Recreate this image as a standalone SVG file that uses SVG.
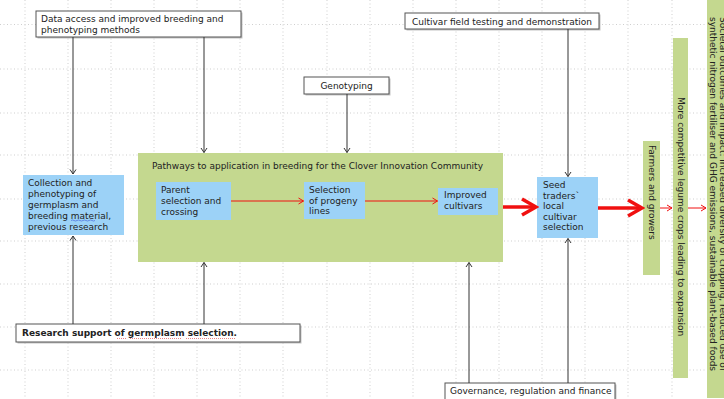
<svg xmlns="http://www.w3.org/2000/svg" width="724" height="399" viewBox="0 0 724 399">
<style>
.t{font-family:"DejaVu Sans",Verdana,sans-serif;font-size:9px;fill:#222}
.b{font-weight:bold}
.grid line{stroke:#cfcfcf;stroke-width:1;stroke-dasharray:1,2.5}
.wb{fill:#fff;stroke:#555;stroke-width:1}
.sh{fill:#c4c4c4}
.blue{fill:#9cd2f7}
.green{fill:#c4d88f}
.ck{stroke:#333;stroke-width:1;fill:none}
.cr{stroke:#f01010;stroke-width:1;fill:none}
.crt{stroke:#f01010;stroke-width:3.5;fill:none}
</style>
<defs>
<marker id="ak" viewBox="0 0 8 8" refX="7.5" refY="4" markerWidth="8" markerHeight="8" markerUnits="userSpaceOnUse" orient="auto"><path d="M3,1 L7.5,4 L3,7" fill="none" stroke="#333" stroke-width="1"/></marker>
<marker id="ar" viewBox="0 0 8 8" refX="7.5" refY="4" markerWidth="8" markerHeight="8" markerUnits="userSpaceOnUse" orient="auto"><path d="M2.5,1 L7.5,4 L2.5,7" fill="none" stroke="#f01010" stroke-width="1"/></marker>
<marker id="art" viewBox="0 0 20 20" refX="17" refY="10" markerWidth="20" markerHeight="20" markerUnits="userSpaceOnUse" orient="auto"><path d="M3,2 L17,10 L3,18" fill="none" stroke="#f01010" stroke-width="3.5"/></marker>
</defs>
<rect width="724" height="399" fill="#fff"/>
<g class="grid">
<line x1="25" y1="0" x2="25" y2="399"/><line x1="68" y1="0" x2="68" y2="399"/><line x1="111" y1="0" x2="111" y2="399"/><line x1="154" y1="0" x2="154" y2="399"/><line x1="197" y1="0" x2="197" y2="399"/><line x1="240" y1="0" x2="240" y2="399"/><line x1="283" y1="0" x2="283" y2="399"/><line x1="327" y1="0" x2="327" y2="399"/><line x1="370" y1="0" x2="370" y2="399"/><line x1="413" y1="0" x2="413" y2="399"/><line x1="456" y1="0" x2="456" y2="399"/><line x1="499" y1="0" x2="499" y2="399"/><line x1="542" y1="0" x2="542" y2="399"/><line x1="585" y1="0" x2="585" y2="399"/><line x1="628" y1="0" x2="628" y2="399"/><line x1="672" y1="0" x2="672" y2="399"/><line x1="715" y1="0" x2="715" y2="399"/>
<line x1="0" y1="24.5" x2="724" y2="24.5"/><line x1="0" y1="69" x2="724" y2="69"/><line x1="0" y1="113" x2="724" y2="113"/><line x1="0" y1="155" x2="724" y2="155"/><line x1="0" y1="199" x2="724" y2="199"/><line x1="0" y1="241" x2="724" y2="241"/><line x1="0" y1="284" x2="724" y2="284"/><line x1="0" y1="327" x2="724" y2="327"/><line x1="0" y1="370" x2="724" y2="370"/>
</g>

<g id="pathways">
<rect class="green" x="138" y="153" width="365" height="109"/>
<text class="t" x="152" y="169">Pathways to application in breeding for the Clover Innovation Community</text>
</g>

<g id="data-access">
<rect class="sh" x="37.5" y="12.5" width="205" height="26"/>
<rect class="wb" x="36" y="11" width="205" height="26"/>
<text class="t" x="41" y="21.5">Data access and improved breeding and</text>
<text class="t" x="41" y="33">phenotyping methods</text>
</g>

<g id="genotyping">
<rect class="sh" x="305.5" y="78.5" width="85" height="17"/>
<rect class="wb" x="304" y="77" width="85" height="17"/>
<text class="t" x="346.5" y="89" text-anchor="middle">Genotyping</text>
</g>

<g id="cultivar-field">
<rect class="sh" x="406.5" y="14.5" width="194" height="16"/>
<rect class="wb" x="405" y="13" width="194" height="16"/>
<text class="t" x="502" y="25" text-anchor="middle">Cultivar field testing and demonstration</text>
</g>

<g id="collection">
<rect class="blue" x="23" y="175" width="101" height="60"/>
<text class="t" x="28" y="186">Collection and</text>
<text class="t" x="28" y="197">phenotyping of</text>
<text class="t" x="28" y="208">germplasm and</text>
<text class="t" x="28" y="219">breeding material,</text>
<text class="t" x="28" y="229.5">previous research</text>
<path d="M71,220.5 q1.5,-1 3,0 t3,0 t3,0 t3,0 t3,0 t3,0 t3,0 t3,0" stroke="#3b5bd6" stroke-width="0.6" fill="none"/>
</g>

<g id="parent">
<rect class="blue" x="156" y="182" width="75" height="38"/>
<text class="t" x="161" y="193">Parent</text>
<text class="t" x="161" y="204">selection and</text>
<text class="t" x="161" y="215">crossing</text>
</g>

<g id="progeny">
<rect class="blue" x="304" y="182" width="61" height="37"/>
<text class="t" x="309" y="193">Selection</text>
<text class="t" x="309" y="203.5">of progeny</text>
<text class="t" x="309" y="214">lines</text>
</g>

<g id="improved">
<rect class="blue" x="438" y="188" width="60" height="27"/>
<text class="t" x="444" y="198">Improved</text>
<text class="t" x="444" y="209">cultivars</text>
</g>

<g id="seed-traders">
<rect class="blue" x="537" y="177" width="61" height="61"/>
<text class="t" x="543" y="188">Seed</text>
<text class="t" x="543" y="198.5">traders`</text>
<text class="t" x="543" y="209">local</text>
<text class="t" x="543" y="219.5">cultivar</text>
<text class="t" x="543" y="230">selection</text>
</g>

<g id="farmers">
<rect class="green" x="643" y="141" width="17" height="134"/>
<text class="t" transform="translate(648.5,145) rotate(90)">Farmers and growers</text>
</g>

<g id="more-competitive">
<rect class="green" x="673" y="38" width="15" height="340"/>
<text class="t" transform="translate(677.5,97) rotate(90)">More competitive legume crops leading to expansion</text>
</g>

<g id="societal">
<rect class="green" x="707" y="-5" width="30" height="403"/>
<text class="t" transform="translate(720,17) rotate(90)">Societal outcomes and impact: increased diversity of cropping, reduced use of</text>
<text class="t" transform="translate(709.5,17) rotate(90)">synthetic nitrogen fertiliser and GHG emissions, sustainable plant-based foods</text>
</g>

<g id="research-support">
<rect class="sh" x="17.5" y="325.5" width="284" height="18"/>
<rect class="wb" x="16" y="324" width="284" height="18"/>
<text class="t b" x="22" y="336">Research support of germplasm selection.</text>
<path d="M117,338.5 H127 M130,338.5 H182 M186,338.5 H235" stroke="#e05050" stroke-width="0.7" stroke-dasharray="1,1" fill="none"/>
</g>

<g id="governance">
<rect class="sh" x="446.5" y="384.5" width="170" height="20"/>
<rect class="wb" x="445" y="383" width="170" height="20"/>
<text class="t" x="450" y="394">Governance, regulation and finance</text>
</g>

<g id="connectors">
<path class="ck" d="M73,37 V174" marker-end="url(#ak)"/>
<path class="ck" d="M204,37 V152.5" marker-end="url(#ak)"/>
<path class="ck" d="M347,94 V152.5" marker-end="url(#ak)"/>
<path class="ck" d="M568,29 V176.5" marker-end="url(#ak)"/>
<path class="ck" d="M73,324 V236" marker-end="url(#ak)"/>
<path class="ck" d="M204,324 V262.5" marker-end="url(#ak)"/>
<path class="ck" d="M469,383 V262.5" marker-end="url(#ak)"/>
<path class="ck" d="M568,383 V238.5" marker-end="url(#ak)"/>
<path class="cr" d="M231,201 H303.5" marker-end="url(#ar)"/>
<path class="cr" d="M365,201 H437.5" marker-end="url(#ar)"/>
<path class="crt" d="M503,207 H536" marker-end="url(#art)"/>
<path class="crt" d="M598,208 H642" marker-end="url(#art)"/>
<path class="cr" d="M660,208 H672" marker-end="url(#ar)"/>
<path class="cr" d="M688,208 H706" marker-end="url(#ar)"/>
</g>
</svg>
